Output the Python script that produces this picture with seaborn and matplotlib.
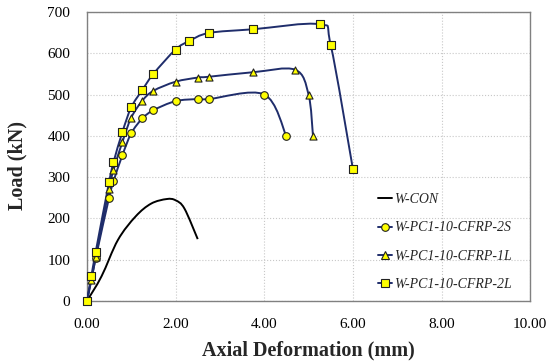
import numpy as np
import matplotlib
matplotlib.use("Agg")
import matplotlib.pyplot as plt
from matplotlib.path import Path
from matplotlib.patches import PathPatch
from matplotlib.lines import Line2D
import seaborn as sns

# data
con_x = [0, 0.33, 0.7, 1.1, 1.45, 1.8, 2.0, 2.2, 2.5]
con_y = [0, 60, 148, 205, 236, 247, 244, 224, 150]

s2_x = [0, 0.2, 0.5, 0.6, 0.8, 1.0, 1.25, 1.5, 2.0, 2.5, 2.75, 4.0, 4.5]
s2_y = [0, 105, 250, 290, 353, 406, 442, 462, 484, 489, 489, 500, 399]

l1_x = [0, 0.1, 0.2, 0.5, 0.6, 0.8, 1.0, 1.25, 1.5, 2.0, 2.5, 2.75, 3.75, 4.7, 5.0, 5.1]
l1_y = [0, 50, 107, 272, 317, 385, 444, 485, 509, 531, 541, 543, 554, 560, 500, 400]

l2_x = [0, 0.1, 0.2, 0.5, 0.6, 0.8, 1.0, 1.25, 1.5, 2.0, 2.3, 2.75, 3.75, 5.25, 5.5, 6.0]
l2_y = [0, 60, 120, 288, 336, 409, 469, 511, 550, 609, 629, 649, 658, 670, 620, 320]

labels = ['W-CON', 'W-PC1-10-CFRP-2S', 'W-PC1-10-CFRP-1L', 'W-PC1-10-CFRP-2L']
x_ticks = [0, 2, 4, 6, 8, 10]
y_ticks = [0, 100, 200, 300, 400, 500, 600, 700]

navy = '#1F2D6B'
yellow = '#FFFF00'

sns.set_theme(style='white')
plt.rcParams['font.family'] = ['Liberation Serif', 'DejaVu Serif']


def smooth_path(xs, ys):
    # excel-style smoothed line (cubic bezier through every point)
    p = np.column_stack([xs, ys]).astype(float)
    n = len(p)
    verts = [p[0]]
    codes = [Path.MOVETO]
    for i in range(n - 1):
        p0 = p[i - 1] if i > 0 else p[i]
        p3 = p[i + 2] if i + 2 < n else p[i + 1]
        c1 = p[i] + (p[i + 1] - p0) / 6
        c2 = p[i + 1] - (p3 - p[i]) / 6
        verts += [c1, c2, p[i + 1]]
        codes += [Path.CURVE4] * 3
    return Path(verts, codes)


fig, ax = plt.subplots(figsize=(5.5, 3.61), dpi=100)
fig.subplots_adjust(left=0.158, right=0.964, bottom=0.166, top=0.967)

series = [(con_x, con_y, 'black', None, 0),
          (s2_x, s2_y, navy, 'o', 30),
          (l1_x, l1_y, navy, '^', 26),
          (l2_x, l2_y, navy, 's', 30)]

handles = []
for (xs, ys, col, mk, sz), lab in zip(series, labels):
    ax.add_patch(PathPatch(smooth_path(xs, ys), facecolor='none',
                           edgecolor=col, lw=1.4, zorder=3))
    if mk is not None:
        sns.scatterplot(x=xs, y=ys, marker=mk, s=sz, color=yellow,
                        edgecolor='#222222', linewidth=0.8, ax=ax,
                        zorder=4, legend=False, clip_on=False)
    handles.append(Line2D([0], [0], color=col, lw=1.4, marker=mk,
                          markersize=5.5, markerfacecolor=yellow,
                          markeredgecolor='#222222', markeredgewidth=0.8))

ax.set_xlim(0, 10)
ax.set_ylim(0, 700)
ax.set_xticks(x_ticks)
ax.set_xticklabels(['{:.2f}'.format(v) for v in x_ticks])
ax.set_yticks(y_ticks)
ax.tick_params(length=0, labelsize=11, colors='black')
ax.tick_params(axis='x', pad=12)
ax.tick_params(axis='y', pad=12)
ax.grid(True, color='#C8C8C8', linestyle=':', linewidth=0.8)
for sp in ax.spines.values():
    sp.set_color('#808080')
    sp.set_linewidth(1.0)

ax.set_xlabel('Axial Deformation (mm)', fontsize=14.5, fontweight='bold')
ax.set_ylabel('Load (kN)', fontsize=14.5, fontweight='bold')
ax.xaxis.set_label_coords(0.5, -0.135)
ax.yaxis.set_label_coords(-0.135, 0.47)

ax.legend(handles, labels, loc='lower left', bbox_to_anchor=(0.641, 0.011),
          frameon=False, borderpad=0, prop={'style': 'italic', 'size': 10},
          handlelength=1.0, handletextpad=0.15, labelspacing=1.1)

plt.savefig('out.png', dpi=100)
plt.close()
